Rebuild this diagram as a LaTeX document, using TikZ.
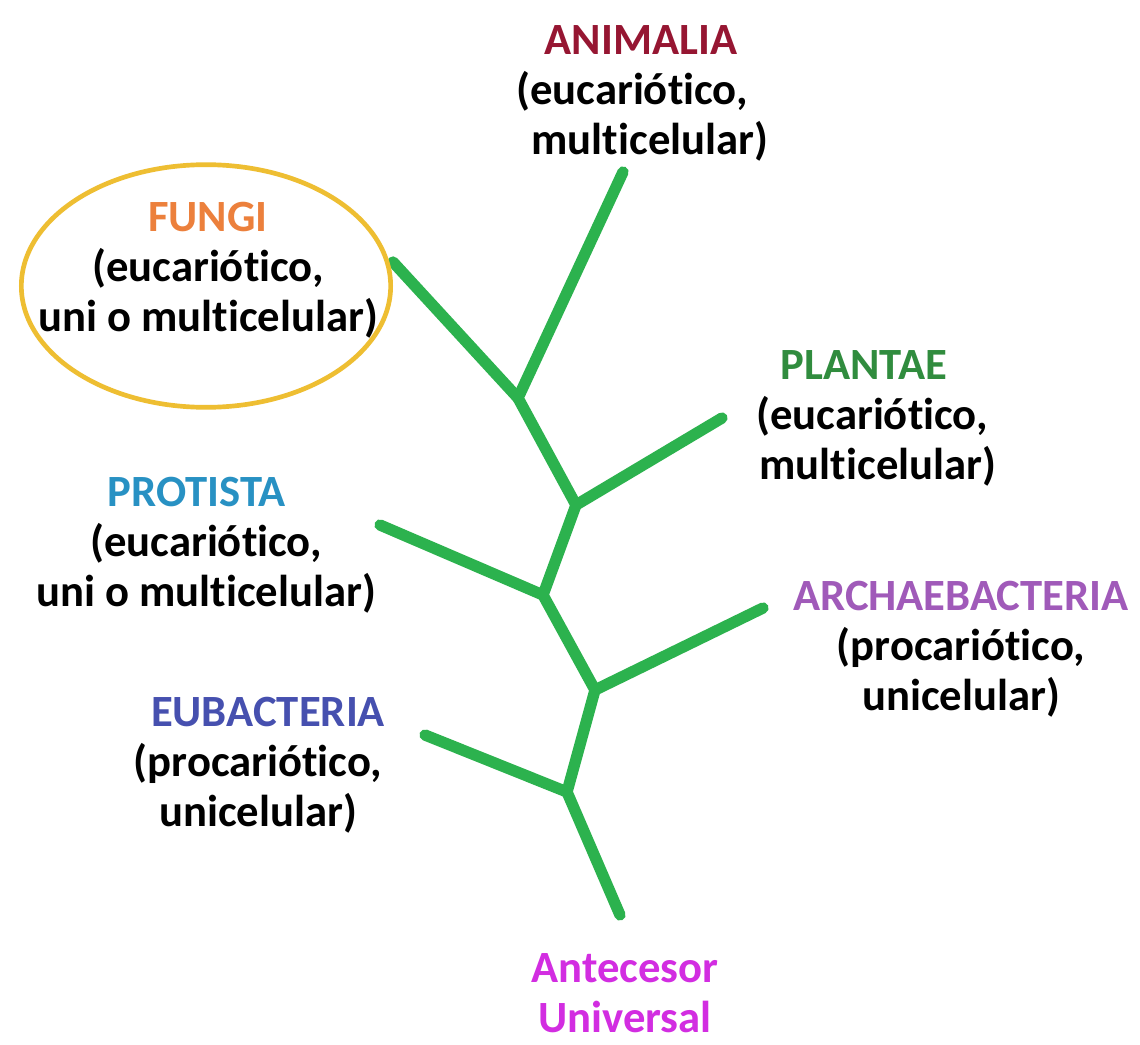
\documentclass[tikz,border=0pt]{standalone}
\usepackage{fontspec}
\setmainfont{Carlito}[Ligatures={NoCommon}]
\usetikzlibrary{shapes.geometric}
\definecolor{branch}{RGB}{44,178,78}
\definecolor{animc}{RGB}{150,22,50}
\definecolor{fungc}{RGB}{236,128,60}
\definecolor{plantc}{RGB}{48,140,62}
\definecolor{protc}{RGB}{40,145,195}
\definecolor{archc}{RGB}{160,90,185}
\definecolor{eubc}{RGB}{70,80,175}
\definecolor{ancc}{RGB}{210,45,225}
\definecolor{ringc}{RGB}{238,190,50}
\begin{document}
\begin{tikzpicture}[x=0.75pt,y=-0.75pt,
  lbl/.style={align=center,font=\fontsize{33.5}{37.5}\selectfont\bfseries,inner sep=0pt},
  twig/.style={draw=branch,line width=8.5pt,line cap=round,line join=round}]
\useasboundingbox[fill=white] (0,0) rectangle (1140,1045);
% tree points
\coordinate (root) at (620,915);
\coordinate (j1) at (567,792);
\coordinate (j2) at (595,690);
\coordinate (j3) at (543,595);
\coordinate (j4) at (576,505);
\coordinate (j5) at (518,398);
\coordinate (teub) at (425,735);
\coordinate (tarc) at (763,608);
\coordinate (tpro) at (380,525);
\coordinate (tpla) at (722,418);
\coordinate (tfun) at (393,262);
\coordinate (tani) at (623,172);
% branches
\draw[twig] (root) -- (j1) -- (j2) -- (j3) -- (j4) -- (j5) -- (tani);
\draw[twig] (teub) -- (j1);
\draw[twig] (tarc) -- (j2);
\draw[twig] (tpro) -- (j3);
\draw[twig] (tpla) -- (j4);
\draw[twig] (tfun) -- (j5);
% fungi ring
\node[ellipse,draw=ringc,line width=3.5pt,minimum width=277pt,minimum height=182pt] (ring) at (206,286) {};
% labels
\node[lbl] (animalia) at (632,93) {\hspace*{13.5pt}\textcolor{animc}{ANIMALIA}\\(eucariótico,\\\hspace*{27pt}multicelular)};
\node[lbl] (fungi) at (208,270) {\textcolor{fungc}{FUNGI}\\(eucariótico,\\uni o multicelular)};
\node[lbl] (plantae) at (872,418) {\textcolor{plantc}{PLANTAE}\hspace*{12pt}\\(eucariótico,\\\hspace*{9pt}multicelular)};
\node[lbl] (protista) at (206,545) {\textcolor{protc}{PROTISTA}\hspace*{13.5pt}\\(eucariótico,\\uni o multicelular)};
\node[lbl] (archae) at (961,649) {\textcolor{archc}{ARCHAEBACTERIA}\\(procariótico,\\unicelular)};
\node[lbl] (eubact) at (258,765) {\hspace*{15pt}\textcolor{eubc}{EUBACTERIA}\\(procariótico,\\unicelular)};
\node[lbl,text=ancc] (ancestor) at (625,993) {Antecesor\\Universal};
\end{tikzpicture}
\end{document}
